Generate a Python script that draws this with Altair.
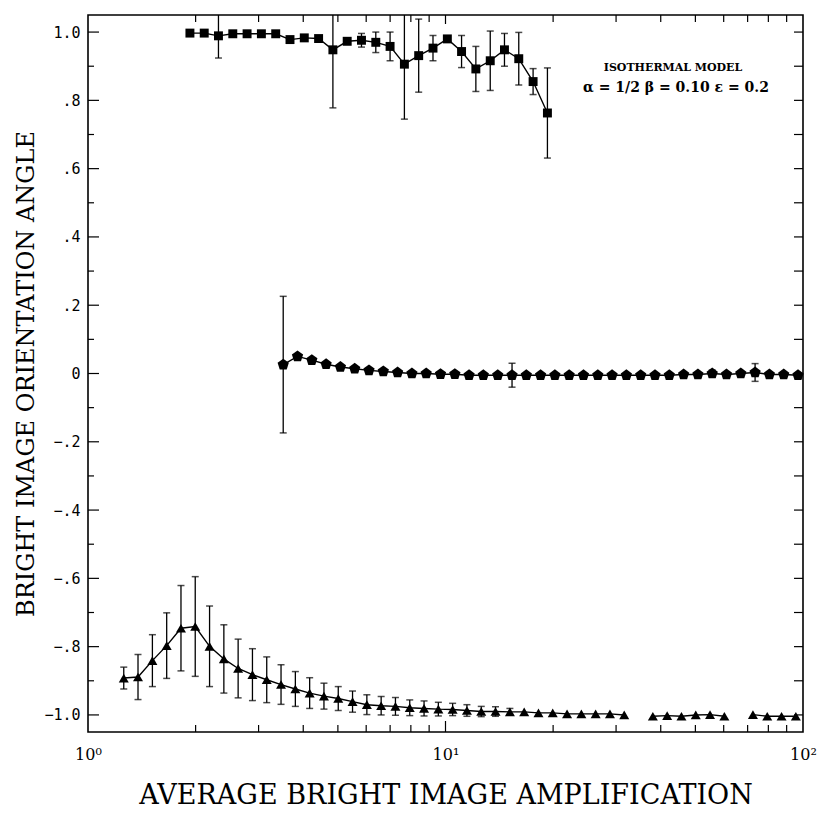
import altair as alt
import pandas as pd

# ---------------- data ----------------
top_x = [1.928, 2.114, 2.317, 2.541, 2.786, 3.055, 3.350, 3.673, 4.027, 4.416,
         4.842, 5.309, 5.821, 6.383, 6.998, 7.674, 8.414, 9.226, 10.12, 11.09,
         12.16, 13.34, 14.62, 16.03, 17.58, 19.28]
top_y = [0.997, 0.997, 0.989, 0.995, 0.995, 0.995, 0.995, 0.978, 0.983, 0.981,
         0.948, 0.973, 0.976, 0.970, 0.958, 0.906, 0.931, 0.953, 0.980, 0.943,
         0.892, 0.916, 0.948, 0.922, 0.855, 0.763]
top_err = [0, 0, 0.065, 0, 0, 0, 0, 0, 0, 0,
           0.17, 0, 0.02, 0.03, 0.042, 0.161, 0.107, 0.037, 0, 0.047,
           0.066, 0.087, 0.048, 0.077, 0.038, 0.132]

mid_x = [3.516, 3.855, 4.227, 4.635, 5.082, 5.572, 6.109, 6.699, 7.345, 8.054,
         8.831, 9.683, 10.62, 11.64, 12.76, 14.00, 15.35, 16.83, 18.45, 20.23,
         22.18, 24.32, 26.67, 29.24, 32.06, 35.16, 38.55, 42.27, 46.35, 50.82,
         55.72, 61.09, 66.99, 73.45, 80.54, 88.31, 96.83]
mid_y = [0.026, 0.050, 0.039, 0.027, 0.019, 0.014, 0.009, 0.006, 0.003, 0.000,
         0.000, -0.002, -0.002, -0.005, -0.005, -0.005, -0.005, -0.005, -0.005, -0.005,
         -0.005, -0.005, -0.005, -0.005, -0.005, -0.005, -0.005, -0.005, -0.003, -0.003,
         0.000, -0.003, 0.000, 0.003, -0.003, -0.003, -0.005]
mid_err = [0.20, 0, 0, 0, 0, 0, 0, 0, 0, 0,
           0, 0, 0, 0, 0, 0, 0.035, 0, 0, 0,
           0, 0, 0, 0, 0, 0, 0, 0, 0, 0,
           0.01, 0, 0, 0.026, 0, 0, 0]

bot_x = [1.259, 1.380, 1.514, 1.660, 1.820, 1.995, 2.188, 2.399, 2.630, 2.884,
         3.162, 3.467, 3.802, 4.169, 4.571, 5.012, 5.495, 6.026, 6.607, 7.244,
         7.943, 8.710, 9.550, 10.47, 11.48, 12.59, 13.80, 15.14, 16.60, 18.20,
         19.95, 21.88, 23.99, 26.30, 28.84, 31.62, 38.02, 41.69, 45.71, 50.12,
         54.95, 60.26, 72.44, 79.43, 87.10, 95.50]
bot_y = [-0.892, -0.889, -0.841, -0.797, -0.746, -0.741, -0.799, -0.836, -0.864, -0.882,
         -0.897, -0.911, -0.924, -0.936, -0.945, -0.952, -0.961, -0.970, -0.973, -0.975,
         -0.979, -0.981, -0.983, -0.984, -0.987, -0.990, -0.990, -0.991, -0.991, -0.994,
         -0.994, -0.997, -0.997, -0.997, -0.997, -1.000, -1.004, -1.002, -1.004, -1.000,
         -0.999, -1.004, -0.999, -1.004, -1.004, -1.004]
bot_err = [0.032, 0.066, 0.076, 0.096, 0.125, 0.146, 0.118, 0.100, 0.086, 0.076,
           0.067, 0.058, 0.051, 0.045, 0.038, 0.035, 0.031, 0.029, 0.027, 0.026,
           0.023, 0.022, 0.020, 0.018, 0.017, 0.015, 0.014, 0.010, 0, 0,
           0, 0, 0, 0, 0, 0, 0, 0, 0, 0,
           0, 0, 0, 0, 0, 0]
bot_segment = [0] * 36 + [1] * 6 + [2] * 4

x_minor_ticks = [2, 3, 4, 5, 6, 7, 8, 9, 20, 30, 40, 50, 60, 70, 80, 90]
x_major_ticks = [10]
y_major_ticks = [-1.0, -0.8, -0.6, -0.4, -0.2, 0.0, 0.2, 0.4, 0.6, 0.8, 1.0]
y_minor_ticks = [-0.9, -0.7, -0.5, -0.3, -0.1, 0.1, 0.3, 0.5, 0.7, 0.9]
y_all_ticks = y_major_ticks + y_minor_ticks

W, H = 715, 717

top = pd.DataFrame({"x": top_x, "y": top_y, "e": top_err})
mid = pd.DataFrame({"x": mid_x, "y": mid_y, "e": mid_err})
bot = pd.DataFrame({"x": bot_x, "y": bot_y, "e": bot_err, "seg": bot_segment})
for d in (top, mid, bot):
    d["lo"] = d["y"] - d["e"]
    d["hi"] = d["y"] + d["e"]
errs = pd.concat([top[top.e > 0], mid[mid.e > 0], bot[bot.e > 0]])[["x", "lo", "hi"]]

xs = alt.Scale(type="log", domain=[1, 100], nice=False)
ys = alt.Scale(domain=[-1.05, 1.05], nice=False, zero=False)

X = alt.X("x:Q", scale=xs, axis=alt.Axis(
    values=[1, 10, 100], ticks=False, domain=False, grid=False,
    labelExpr="datum.value == 1 ? '10⁰' : (datum.value == 10 ? '10¹' : '10²')",
    labelFont="DejaVu Serif", labelFontSize=16, labelColor="black", labelPadding=14,
    labelFlush=False,
    title="AVERAGE BRIGHT IMAGE AMPLIFICATION", titleFont="DejaVu Serif",
    titleFontSize=27, titleFontWeight="normal", titleColor="black", titlePadding=20))
Y = alt.Y("y:Q", scale=ys, axis=alt.Axis(
    values=y_major_ticks, ticks=False, domain=False, grid=False,
    labelExpr="datum.value == 0 ? '0' : (abs(datum.value) > 0.99 ? format(datum.value, '.1f') : replace(format(datum.value, '.1f'), '0.', '.'))",
    labelFont="DejaVu Sans Mono", labelFontSize=15, labelColor="black", labelPadding=8,
    title="BRIGHT IMAGE ORIENTATION ANGLE", titleFont="DejaVu Serif",
    titleFontSize=24, titleFontWeight="normal", titleColor="black", titlePadding=5))

# series lines
l_top = alt.Chart(top).mark_line(color="black", strokeWidth=1.4).encode(x=X, y=Y)
l_mid = alt.Chart(mid).mark_line(color="black", strokeWidth=1.4).encode(x="x:Q", y="y:Q")
l_bot = alt.Chart(bot).mark_line(color="black", strokeWidth=1.4).encode(
    x="x:Q", y="y:Q", detail="seg:N")

# error bars
e_rule = alt.Chart(errs).mark_rule(color="black", strokeWidth=1.3, clip=True).encode(
    x="x:Q", y="lo:Q", y2="hi:Q")
e_cap_lo = alt.Chart(errs).mark_tick(color="black", orient="horizontal", size=7,
                                     thickness=1.5, clip=True).encode(x="x:Q", y="lo:Q")
e_cap_hi = alt.Chart(errs).mark_tick(color="black", orient="horizontal", size=7,
                                     thickness=1.5, clip=True).encode(x="x:Q", y="hi:Q")

# markers
m_top = alt.Chart(top).mark_point(shape="square", filled=True, color="black",
                                  size=80, opacity=1).encode(x="x:Q", y="y:Q")
pent = "M0,-1L0.951,-0.309L0.588,0.809L-0.588,0.809L-0.951,-0.309Z"
m_mid = alt.Chart(mid).mark_point(shape=pent, filled=True, color="black",
                                  size=140, opacity=1).encode(x="x:Q", y="y:Q")
m_bot = alt.Chart(bot).mark_point(shape="triangle-up", filled=True, color="black",
                                  size=100, opacity=1).encode(x="x:Q", y="y:Q")

# manual inward ticks
xmin_df = pd.DataFrame({"x": x_minor_ticks})
xmaj_df = pd.DataFrame({"x": x_major_ticks})
ymaj_df = pd.DataFrame({"y": y_major_ticks})
ymin_df = pd.DataFrame({"y": y_minor_ticks})
yall_df = pd.DataFrame({"y": y_all_ticks})

tk = dict(color="black", strokeWidth=1.2)
t_xb_min = alt.Chart(xmin_df).mark_rule(**tk).encode(x="x:Q", y=alt.value(H), y2=alt.value(H - 7))
t_xb_maj = alt.Chart(xmaj_df).mark_rule(**tk).encode(x="x:Q", y=alt.value(H), y2=alt.value(H - 11))
t_xt_min = alt.Chart(xmin_df).mark_rule(**tk).encode(x="x:Q", y=alt.value(0), y2=alt.value(7))
t_xt_maj = alt.Chart(xmaj_df).mark_rule(**tk).encode(x="x:Q", y=alt.value(0), y2=alt.value(9))
t_yl_maj = alt.Chart(ymaj_df).mark_rule(**tk).encode(y="y:Q", x=alt.value(0), x2=alt.value(11))
t_yl_min = alt.Chart(ymin_df).mark_rule(**tk).encode(y="y:Q", x=alt.value(0), x2=alt.value(6))
t_yr = alt.Chart(yall_df).mark_rule(**tk).encode(y="y:Q", x=alt.value(W), x2=alt.value(W - 9))

# annotation
ann1 = alt.Chart(pd.DataFrame({"t": ["ISOTHERMAL MODEL"]})).mark_text(
    font="DejaVu Serif", fontSize=11, fontWeight="bold", color="black",
    align="center", baseline="middle").encode(text="t:N", x=alt.value(585), y=alt.value(53))
ann2 = alt.Chart(pd.DataFrame({"t": ["α = 1/2 β = 0.10 ε = 0.2"]})).mark_text(
    font="DejaVu Serif", fontSize=14, fontWeight="bold", color="black",
    align="center", baseline="middle").encode(text="t:N", x=alt.value(588), y=alt.value(73))

chart = alt.layer(
    l_top, l_mid, l_bot, e_rule, e_cap_lo, e_cap_hi, m_top, m_mid, m_bot,
    t_xb_min, t_xb_maj, t_xt_min, t_xt_maj, t_yl_maj, t_yl_min, t_yr, ann1, ann2
).properties(
    width=W, height=H,
    autosize=alt.AutoSizeParams(type="none"),
    padding={"left": 88, "top": 15, "right": 16, "bottom": 83},
    background="white",
).configure_view(stroke="black", strokeWidth=1.6)

chart.save("out.html", embed_options={"renderer": "svg", "actions": False})
